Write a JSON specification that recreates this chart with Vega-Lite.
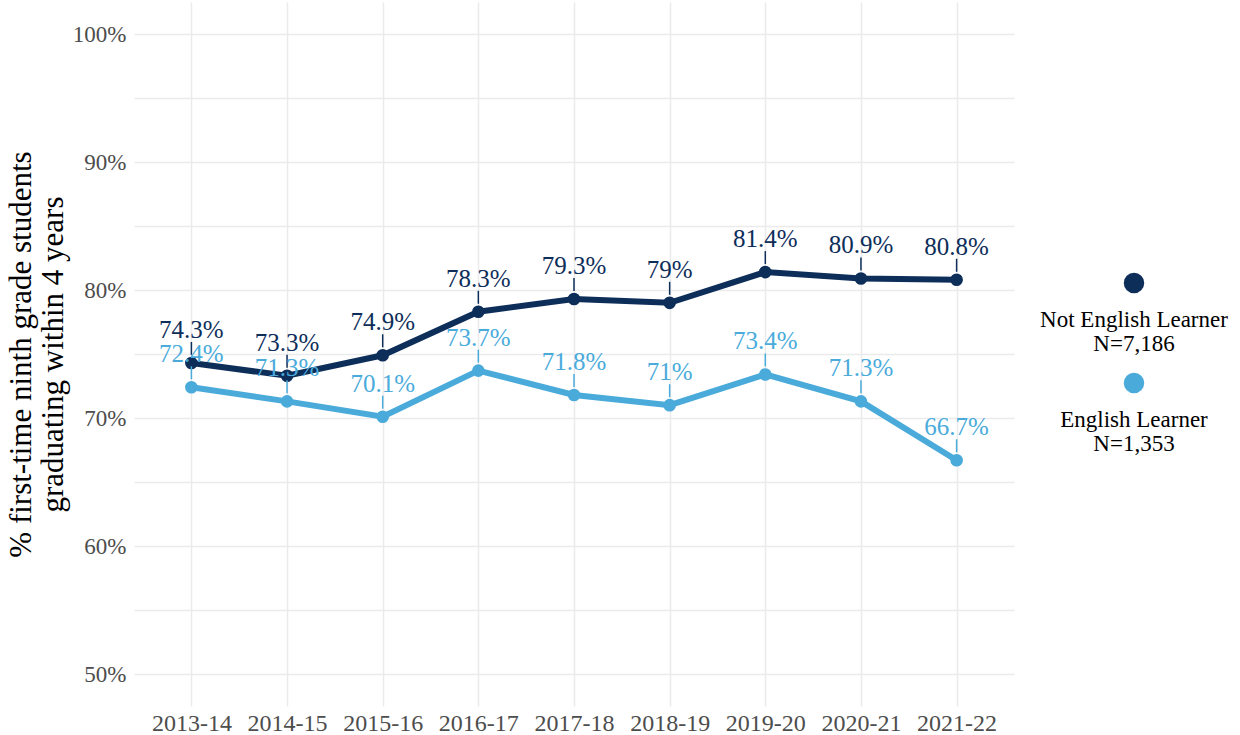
{
  "$schema": "https://vega.github.io/schema/vega-lite/v6.json",
  "padding": {"left": 5, "top": 2, "right": 5, "bottom": 5},
  "background": "white",
  "config": {
    "view": {"stroke": null},
    "font": "Liberation Serif",
    "axis": {"domain": false, "ticks": false, "gridColor": "#ebebeb", "gridWidth": 1.5, "labelColor": "#4d4d4d", "labelFont": "Liberation Serif", "titleFont": "Liberation Serif", "titleFontWeight": "normal", "titleColor": "#000000"}
  },
  "datasets": {
    "grad": [
      {"year": "2013-14", "group": "Not English Learner", "value": 0.743},
      {"year": "2014-15", "group": "Not English Learner", "value": 0.733},
      {"year": "2015-16", "group": "Not English Learner", "value": 0.749},
      {"year": "2016-17", "group": "Not English Learner", "value": 0.783},
      {"year": "2017-18", "group": "Not English Learner", "value": 0.793},
      {"year": "2018-19", "group": "Not English Learner", "value": 0.79},
      {"year": "2019-20", "group": "Not English Learner", "value": 0.814},
      {"year": "2020-21", "group": "Not English Learner", "value": 0.809},
      {"year": "2021-22", "group": "Not English Learner", "value": 0.808},
      {"year": "2013-14", "group": "English Learner", "value": 0.724},
      {"year": "2014-15", "group": "English Learner", "value": 0.713},
      {"year": "2015-16", "group": "English Learner", "value": 0.701},
      {"year": "2016-17", "group": "English Learner", "value": 0.737},
      {"year": "2017-18", "group": "English Learner", "value": 0.718},
      {"year": "2018-19", "group": "English Learner", "value": 0.71},
      {"year": "2019-20", "group": "English Learner", "value": 0.734},
      {"year": "2020-21", "group": "English Learner", "value": 0.713},
      {"year": "2021-22", "group": "English Learner", "value": 0.667}
    ],
    "legend": [
      {"group": "Not English Learner", "label": "Not English Learner\nN=7,186"},
      {"group": "English Learner", "label": "English Learner\nN=1,353"}
    ]
  },
  "hconcat": [
    {
      "width": 880,
      "height": 704,
      "data": {"name": "grad"},
      "encoding": {
        "x": {"field": "year", "type": "ordinal", "scale": {"type": "point", "padding": 0.6},
              "axis": {"title": null, "labelAngle": 0, "labelFontSize": 24, "labelPadding": 5, "grid": true}},
        "y": {"field": "value", "type": "quantitative", "scale": {"domain": [0.475, 1.025], "nice": false, "zero": false},
              "axis": {"title": ["% first-time ninth grade students", "graduating within 4 years"], "titleFontSize": 31, "titlePadding": 3, "titleLineHeight": 32,
                       "values": [0.5, 0.55, 0.6, 0.65, 0.7, 0.75, 0.8, 0.85, 0.9, 0.95, 1.0], "format": ".0%",
                       "labelExpr": "round(datum.value*100) % 10 == 0 ? datum.label : ''", "labelFontSize": 23, "labelPadding": 8}},
        "color": {"field": "group", "type": "nominal", "scale": {"domain": ["Not English Learner", "English Learner"], "range": ["#0e2e5a", "#4aabdb"]}, "legend": null}
      },
      "layer": [
        {"mark": {"type": "line", "strokeWidth": 6}},
        {"mark": {"type": "point", "filled": true, "opacity": 1, "size": 160}},
        {"mark": {"type": "rule", "strokeWidth": 1.5, "yOffset": -8, "y2Offset": -21}, "encoding": {"y2": {"field": "value"}}},
        {"mark": {"type": "text", "baseline": "bottom", "dy": -20, "fontSize": 25}, "encoding": {"text": {"field": "value", "type": "quantitative", "format": ".1~%"}}}
      ]
    },
    {
      "width": 200,
      "height": 662,
      "data": {"name": "legend"},
      "encoding": {
        "y": {"field": "group", "type": "nominal", "scale": {"type": "point", "domain": ["Not English Learner", "English Learner"], "range": [281, 381], "padding": 0}, "axis": null},
        "color": {"field": "group", "type": "nominal", "scale": {"domain": ["Not English Learner", "English Learner"], "range": ["#0e2e5a", "#4aabdb"]}, "legend": null}
      },
      "layer": [
        {"mark": {"type": "point", "filled": true, "opacity": 1, "size": 420}},
        {"mark": {"type": "text", "baseline": "top", "dy": 26, "fontSize": 23, "lineBreak": "\n", "lineHeight": 24}, "encoding": {"text": {"field": "label"}, "color": {"value": "#000000"}}}
      ]
    }
  ],
  "spacing": 20
}
